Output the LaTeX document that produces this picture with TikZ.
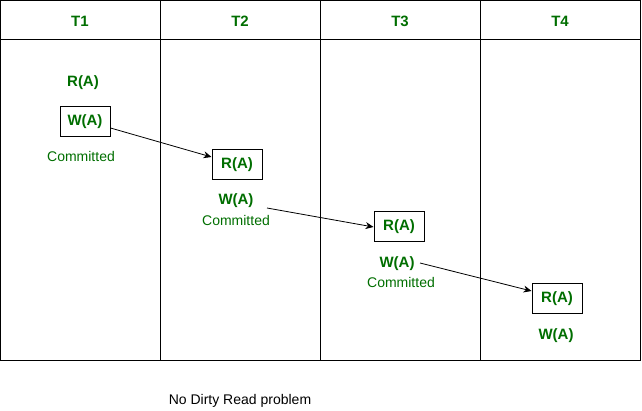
\documentclass[tikz,border=0pt]{standalone}
\usepackage{fontspec}
\setmainfont{Liberation Sans}
\usetikzlibrary{arrows.meta}
\definecolor{dgreen}{RGB}{0,110,0}
\tikzset{
  hd/.style={text=dgreen,font=\fontsize{15}{17}\selectfont\bfseries,inner sep=0pt},
  optext/.style={text=dgreen,font=\fontsize{15}{17}\selectfont\bfseries,inner sep=0pt},
  opbox/.style={draw=black,line width=1pt,text=dgreen,font=\fontsize{15}{17}\selectfont\bfseries,minimum width=50pt,minimum height=30pt,inner sep=0pt},
  cmtext/.style={text=dgreen,font=\fontsize{14}{16}\selectfont,inner sep=0pt},
  gridline/.style={line width=1pt,draw=black},
  arr/.style={-{Stealth[length=8pt,width=7pt]},line width=0.8pt}
}
\begin{document}
\begin{tikzpicture}[x=1pt,y=-1pt]
\useasboundingbox (0,0) rectangle (642,411);
\draw[gridline] (0.5,0.5) rectangle (640,360);
\draw[gridline] (0.5,40) -- (640,40);
\draw[gridline] (160,0.5) -- (160,360);
\draw[gridline] (320,0.5) -- (320,360);
\draw[gridline] (480,0.5) -- (480,360);
\node[hd] (h1) at (80,21) {T1};
\node[hd] (h2) at (240,21) {T2};
\node[hd] (h3) at (400,21) {T3};
\node[hd] (h4) at (560,21) {T4};
% T1
\node[optext] (r1) at (83,83) {R(A)};
\node[opbox] (w1) at (85,122) {W(A)};
\node[cmtext] (c1) at (81,156) {Committed};
% T2
\node[opbox] (r2) at (237,165) {R(A)};
\node[optext] (w2) at (236,201) {W(A)};
\node[cmtext] (c2) at (236,220) {Committed};
% T3
\node[opbox] (r3) at (399,227) {R(A)};
\node[optext] (w3) at (397,264) {W(A)};
\node[cmtext] (c3) at (401,282) {Committed};
% T4
\node[opbox] (r4) at (557,299) {R(A)};
\node[optext] (w4) at (556,336) {W(A)};
% arrows
\coordinate (e1) at (r2.west |- 0,157);
\draw[arr] (w1.east |- 0,128) -- (e1);
\coordinate (s2) at (267,208);
\draw[arr] (s2) -- (r3.west);
\coordinate (s3) at (420,263);
\coordinate (e3) at (r4.west |- 0,291);
\draw[arr] (s3) -- (e3);
\node[font=\fontsize{14}{16}\selectfont,inner sep=0pt] (note) at (240,401) {No Dirty Read problem};
\end{tikzpicture}
\end{document}
